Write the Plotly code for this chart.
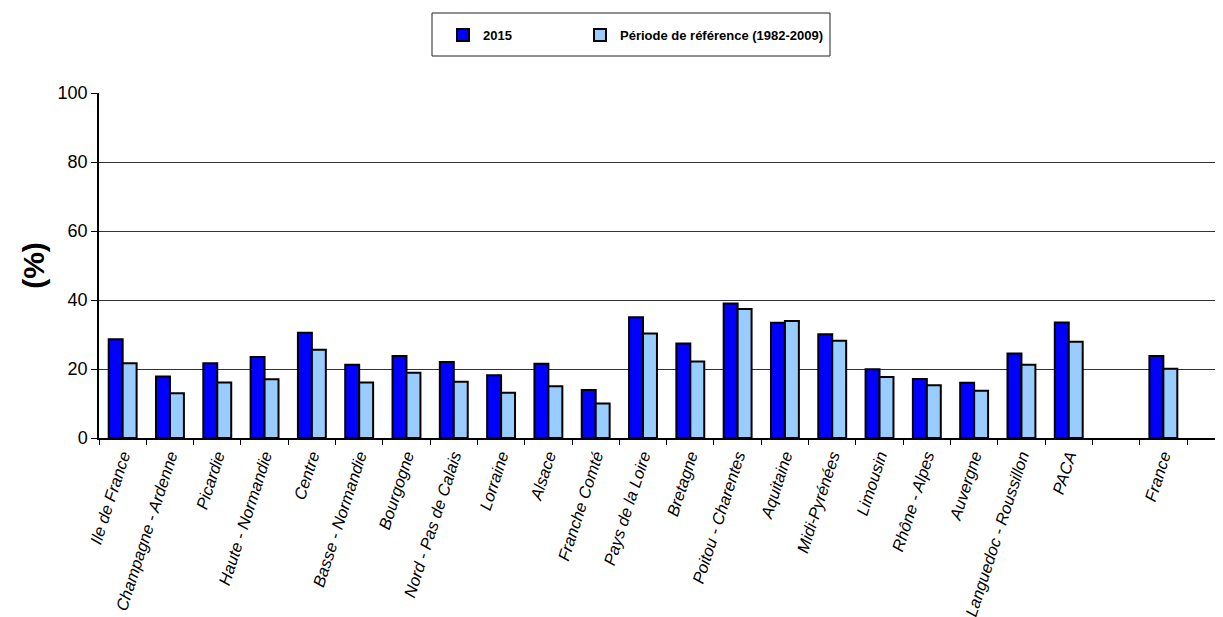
import plotly.graph_objects as go

categories = ["Ile de France", "Champagne - Ardenne", "Picardie", "Haute - Normandie",
              "Centre", "Basse - Normandie", "Bourgogne", "Nord - Pas de Calais",
              "Lorraine", "Alsace", "Franche Comté", "Pays de la Loire", "Bretagne",
              "Poitou - Charentes", "Aquitaine", "Midi-Pyrénées", "Limousin",
              "Rhône - Alpes", "Auvergne", "Languedoc - Roussillon", "PACA", " ", "France"]

values_2015 = [28.6, 17.8, 21.7, 23.5, 30.5, 21.2, 23.8, 22.0, 18.2, 21.5, 13.9,
               35.0, 27.4, 39.0, 33.4, 30.1, 19.9, 17.1, 16.0, 24.5, 33.5, None, 23.8]
values_ref = [21.7, 13.0, 16.1, 17.0, 25.6, 16.1, 18.9, 16.3, 13.1, 15.0, 10.0,
              30.3, 22.2, 37.4, 33.9, 28.2, 17.7, 15.3, 13.7, 21.2, 27.9, None, 20.1]

name_2015 = "2015"
name_ref = "Période de référence (1982-2009)"

# page is offset by the 8px body margin; margins compensate
W, H = 1223, 617
L, T, R = 91, 85, 0
PH = 345
B = H - T - PH
PW = W - L - R
OFF = 8


def px_x(p):  # page pixel -> paper x
    return (p - OFF - L) / PW


def px_y(p):  # page pixel -> paper y
    return (T + PH - (p - OFF)) / PH


fig = go.Figure()
fig.add_trace(go.Bar(x=categories, y=values_2015, name=name_2015,
                     marker=dict(color="#0000FF", line=dict(color="black", width=2)),
                     legendwidth=92))
fig.add_trace(go.Bar(x=categories, y=values_ref, name=name_ref,
                     marker=dict(color="#99CCFF", line=dict(color="black", width=2))))

font_family = "Liberation Sans, Arial, sans-serif"

fig.update_layout(
    width=W, height=H,
    margin=dict(l=L, r=R, t=T, b=B, autoexpand=False),
    paper_bgcolor="white", plot_bgcolor="white",
    barmode="group", bargap=0.41, bargroupgap=0,
    font=dict(family=font_family, color="black"),
    legend=dict(orientation="h", x=px_x(443), xanchor="left", y=px_y(35), yanchor="middle",
                font=dict(size=13, family=font_family, weight="bold"),
                bgcolor="rgba(0,0,0,0)", borderwidth=0),
    shapes=[dict(type="rect", xref="paper", yref="paper",
                 x0=px_x(432), x1=px_x(830), y0=px_y(56), y1=px_y(13),
                 line=dict(color="#222", width=1), fillcolor="rgba(0,0,0,0)", layer="above")],
)

fig.update_xaxes(
    type="category", categoryorder="array", categoryarray=categories,
    range=[-0.5, 23.43],
    showline=True, linecolor="black", linewidth=1.5,
    ticks="outside", ticklen=5, tickcolor="black", tickson="boundaries",
    tickangle=-72, tickfont=dict(size=16.5, style="italic", family=font_family),
    showgrid=False,
)
fig.update_yaxes(
    range=[0, 100], dtick=20, tick0=0,
    showline=True, linecolor="black", linewidth=1.5,
    ticks="outside", ticklen=6, tickcolor="black",
    tickfont=dict(size=18, family=font_family),
    showgrid=True, gridcolor="#333", gridwidth=1,
    zeroline=False,
    title=dict(text="(%)", font=dict(size=30, family=font_family, weight="bold"), standoff=4),
)

fig.write_html("out.html")
